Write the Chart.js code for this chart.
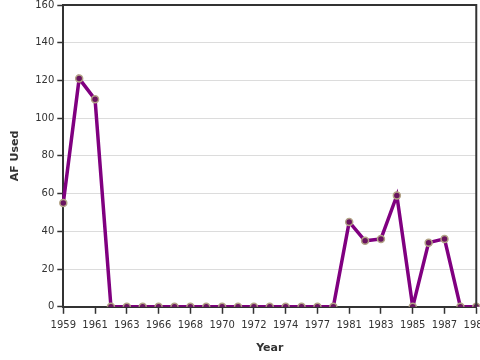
<!DOCTYPE html>
<html>
<head>
<meta charset="utf-8">
<script src="https://cdn.jsdelivr.net/npm/chart.js@4/dist/chart.umd.min.js"></script>
<style>
  html, body { margin: 0; padding: 0; width: 480px; height: 360px; overflow: hidden; background: #fff; }
  #wrap { width: 495px; height: 364px; margin-top: -4px; }
</style>
</head>
<body>
<div id="wrap"><canvas id="chart"></canvas></div>
<script>
// years on the category axis (every other one gets a label)
var years = ["1959","1960","1961","1962","1963","1965","1966","1967","1968","1969",
             "1970","1971","1972","1973","1974","1975","1977","1979","1981","1982",
             "1983","1984","1985","1986","1987","1988","1989"];
var afUsed = [55, 121, 110, 0, 0, 0, 0, 0, 0, 0,
              0, 0, 0, 0, 0, 0, 0, 0, 45, 35,
              36, 59, 0, 34, 36, 0, 0];
var yMin = 0, yMax = 160, yStep = 20;

// draws the box round the plot area (top and right sides)
var frame = {
  id: "frame",
  afterDraw: function(chart) {
    var a = chart.chartArea, c = chart.ctx;
    c.save();
    c.strokeStyle = "#333";
    c.lineWidth = 2;
    c.beginPath();
    c.moveTo(a.left, a.top);
    c.lineTo(a.right, a.top);
    c.lineTo(a.right, a.bottom);
    c.stroke();
    c.restore();
  }
};

var ctx = document.getElementById("chart");
var chart = new Chart(ctx, {
  type: "line",
  data: {
    labels: years,
    datasets: [{
      label: "AF Used",
      data: afUsed,
      borderColor: "#800080",
      borderWidth: 3.5,
      backgroundColor: "#6a1460",
      pointBackgroundColor: "#6a1460",
      pointBorderColor: "#b3a487",
      pointBorderWidth: 1.5,
      pointRadius: 3.5,
      tension: 0,
      fill: false
    }]
  },
  options: {
    responsive: true,
    maintainAspectRatio: false,
    animation: false,
    layout: { padding: { top: 0, left: 5, bottom: 1 } },
    plugins: { legend: { display: false }, tooltip: { enabled: false } },
    scales: {
      x: {
        offset: false,
        border: { color: "#333", width: 2 },
        grid: { drawOnChartArea: false, color: "#333", tickColor: "#333", tickWidth: 1.5, tickLength: 7 },
        ticks: {
          autoSkip: true,
          maxTicksLimit: 14,
          maxRotation: 0,
          padding: 6,
          color: "#333",
          font: { family: "DejaVu Sans", size: 10 }
        },
        title: { display: true, text: "Year", color: "#333",
                 font: { family: "DejaVu Sans", size: 11, weight: "bold" }, padding: { top: 4 } }
      },
      y: {
        min: yMin,
        max: yMax,
        border: { color: "#333", width: 2 },
        grid: { color: "#dcdcdc", tickColor: "#333", tickWidth: 1.5, tickLength: 6 },
        ticks: { stepSize: yStep, color: "#333", font: { family: "DejaVu Sans", size: 10 } },
        title: { display: true, text: "AF Used", color: "#333",
                 font: { family: "DejaVu Sans", size: 11, weight: "bold" }, padding: { bottom: 10 } }
      }
    }
  },
  plugins: [frame]
});
</script>
</body>
</html>
